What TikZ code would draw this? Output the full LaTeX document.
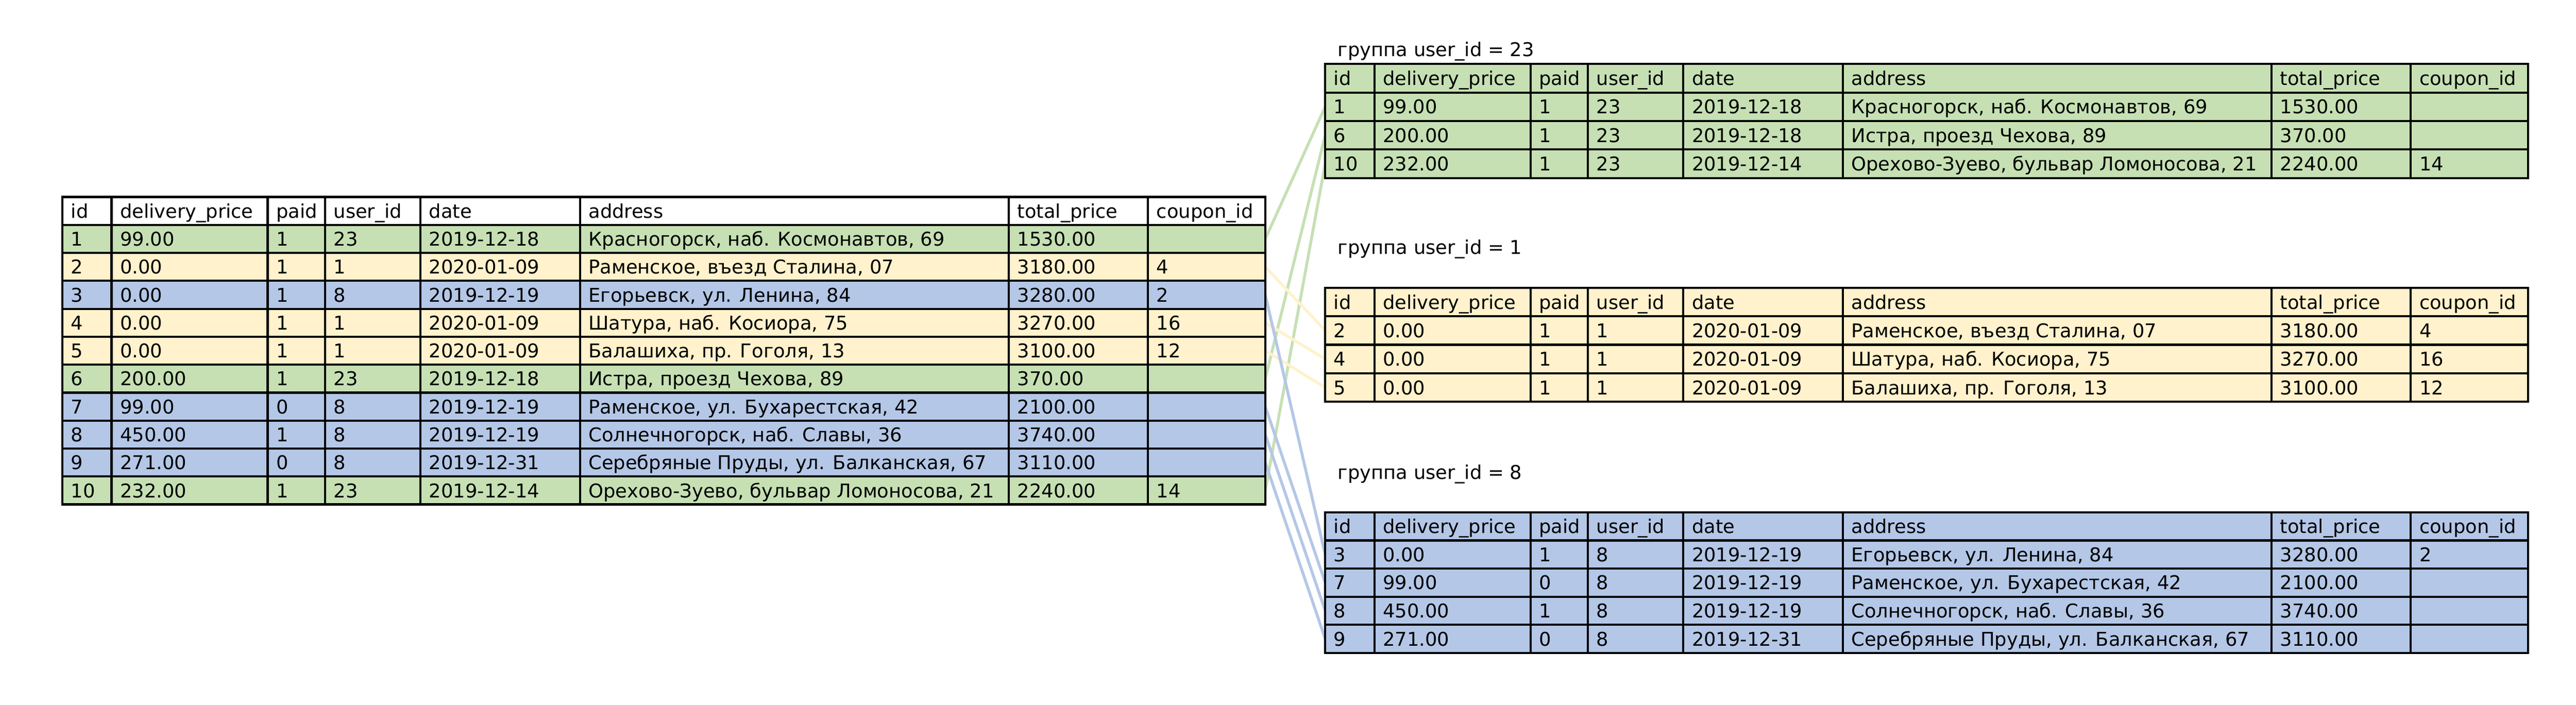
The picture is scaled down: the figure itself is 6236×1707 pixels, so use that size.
\documentclass[tikz,border=0pt]{standalone}
\usepackage{fontspec}
\setmainfont{DejaVu Sans}
\usetikzlibrary{backgrounds}
\definecolor{gfill}{HTML}{C6E0B4}
\definecolor{yfill}{HTML}{FFF2CC}
\definecolor{bfill}{HTML}{B4C7E7}
\def\colx{{0,119,497,636,867,1253,2291,2628,2912}}
\newcommand{\mkrow}[4]{%
  \pgfmathsetmacro\rowtop{\tY+#2*\tH}%
  \pgfmathsetmacro\rowmid{\rowtop+\tH/2}%
  \fill[#3] (\tX,\rowtop) rectangle (\tX+2912,\rowtop+\tH);
  \coordinate (#1-#2-w) at (\tX,\rowmid);
  \coordinate (#1-#2-e) at (\tX+2912,\rowmid);
  \foreach \t [count=\j from 0] in {#4} {
    \pgfmathsetmacro\cx{\tX+\colx[\j]+20}
    \node[cell] (#1-#2-\j) at (\cx,\rowmid+17) {\t};
  }
}
\newcommand{\mkgrid}[1]{%
  \pgfmathtruncatemacro\nrm{#1-1}%
  \foreach \k in {1,...,\nrm} {\draw[gridline] (\tX,\tY+\k*\tH) -- (\tX+2912,\tY+\k*\tH);}
  \foreach \c in {119,497,636,867,1253,2291,2628} {\draw[gridline] (\tX+\c,\tY) -- (\tX+\c,\tY+#1*\tH);}
  \draw[gridline] (\tX,\tY) rectangle (\tX+2912,\tY+#1*\tH);
}
\tikzset{
  cell/.style={anchor=base west, inner sep=0pt, font=\fontsize{11.5}{14}\selectfont},
  grtitle/.style={anchor=base west, inner sep=0pt, font=\fontsize{11.5}{14}\selectfont},
  gridline/.style={draw=black, line width=1.3pt, line cap=rect},
  conn/.style={line width=1.75pt},
  gconn/.style={conn, draw=gfill},
  yconn/.style={conn, draw=yfill},
  bconn/.style={conn, draw=bfill}
}
\begin{document}
\begin{tikzpicture}[x=0.25pt,y=-0.25pt]
\useasboundingbox (0,0) rectangle (6236,1707);
% ---- source table
\def\tX{151}\def\tY{477}\def\tH{67.7}
\mkrow{L}{0}{white}{id, delivery\_price, paid, user\_id, date, address, total\_price, coupon\_id}
\mkrow{L}{1}{gfill}{1, 99.00, 1, 23, 2019-12-18, {Красногорск, наб. Космонавтов, 69}, 1530.00}
\mkrow{L}{2}{yfill}{2, 0.00, 1, 1, 2020-01-09, {Раменское, въезд Сталина, 07}, 3180.00, 4}
\mkrow{L}{3}{bfill}{3, 0.00, 1, 8, 2019-12-19, {Егорьевск, ул. Ленина, 84}, 3280.00, 2}
\mkrow{L}{4}{yfill}{4, 0.00, 1, 1, 2020-01-09, {Шатура, наб. Косиора, 75}, 3270.00, 16}
\mkrow{L}{5}{yfill}{5, 0.00, 1, 1, 2020-01-09, {Балашиха, пр. Гоголя, 13}, 3100.00, 12}
\mkrow{L}{6}{gfill}{6, 200.00, 1, 23, 2019-12-18, {Истра, проезд Чехова, 89}, 370.00}
\mkrow{L}{7}{bfill}{7, 99.00, 0, 8, 2019-12-19, {Раменское, ул. Бухарестская, 42}, 2100.00}
\mkrow{L}{8}{bfill}{8, 450.00, 1, 8, 2019-12-19, {Солнечногорск, наб. Славы, 36}, 3740.00}
\mkrow{L}{9}{bfill}{9, 271.00, 0, 8, 2019-12-31, {Серебряные Пруды, ул. Балканская, 67}, 3110.00}
\mkrow{L}{10}{gfill}{10, 232.00, 1, 23, 2019-12-14, {Орехово-Зуево, бульвар Ломоносова, 21}, 2240.00, 14}
\mkgrid{11}
% ---- group user_id = 23
\node[grtitle] (t23) at (3238,137) {группа user\_id = 23};
\def\tX{3208}\def\tY{155}\def\tH{69}
\mkrow{G23}{0}{gfill}{id, delivery\_price, paid, user\_id, date, address, total\_price, coupon\_id}
\mkrow{G23}{1}{gfill}{1, 99.00, 1, 23, 2019-12-18, {Красногорск, наб. Космонавтов, 69}, 1530.00}
\mkrow{G23}{2}{gfill}{6, 200.00, 1, 23, 2019-12-18, {Истра, проезд Чехова, 89}, 370.00}
\mkrow{G23}{3}{gfill}{10, 232.00, 1, 23, 2019-12-14, {Орехово-Зуево, бульвар Ломоносова, 21}, 2240.00, 14}
\mkgrid{4}
% ---- group user_id = 1
\node[grtitle] (t1) at (3238,615) {группа user\_id = 1};
\def\tX{3208}\def\tY{697}\def\tH{69}
\mkrow{G1}{0}{yfill}{id, delivery\_price, paid, user\_id, date, address, total\_price, coupon\_id}
\mkrow{G1}{1}{yfill}{2, 0.00, 1, 1, 2020-01-09, {Раменское, въезд Сталина, 07}, 3180.00, 4}
\mkrow{G1}{2}{yfill}{4, 0.00, 1, 1, 2020-01-09, {Шатура, наб. Косиора, 75}, 3270.00, 16}
\mkrow{G1}{3}{yfill}{5, 0.00, 1, 1, 2020-01-09, {Балашиха, пр. Гоголя, 13}, 3100.00, 12}
\mkgrid{4}
% ---- group user_id = 8
\node[grtitle] (t8) at (3238,1160) {группа user\_id = 8};
\def\tX{3208}\def\tY{1241}\def\tH{68}
\mkrow{G8}{0}{bfill}{id, delivery\_price, paid, user\_id, date, address, total\_price, coupon\_id}
\mkrow{G8}{1}{bfill}{3, 0.00, 1, 8, 2019-12-19, {Егорьевск, ул. Ленина, 84}, 3280.00, 2}
\mkrow{G8}{2}{bfill}{7, 99.00, 0, 8, 2019-12-19, {Раменское, ул. Бухарестская, 42}, 2100.00}
\mkrow{G8}{3}{bfill}{8, 450.00, 1, 8, 2019-12-19, {Солнечногорск, наб. Славы, 36}, 3740.00}
\mkrow{G8}{4}{bfill}{9, 271.00, 0, 8, 2019-12-31, {Серебряные Пруды, ул. Балканская, 67}, 3110.00}
\mkgrid{5}
% ---- connectors (behind the tables)
\begin{pgfonlayer}{background}
\draw[gconn] (L-1-e) -- (G23-1-w);
\draw[gconn] (L-6-e) -- (G23-2-w);
\draw[gconn] (L-10-e) -- (G23-3-w);
\draw[yconn] (L-2-e) -- (G1-1-w);
\draw[yconn] (L-4-e) -- (G1-2-w);
\draw[yconn] (L-5-e) -- (G1-3-w);
\draw[bconn] (L-3-e) -- (G8-1-w);
\draw[bconn] (L-7-e) -- (G8-2-w);
\draw[bconn] (L-8-e) -- (G8-3-w);
\draw[bconn] (L-9-e) -- (G8-4-w);
\end{pgfonlayer}
\end{tikzpicture}
\end{document}
